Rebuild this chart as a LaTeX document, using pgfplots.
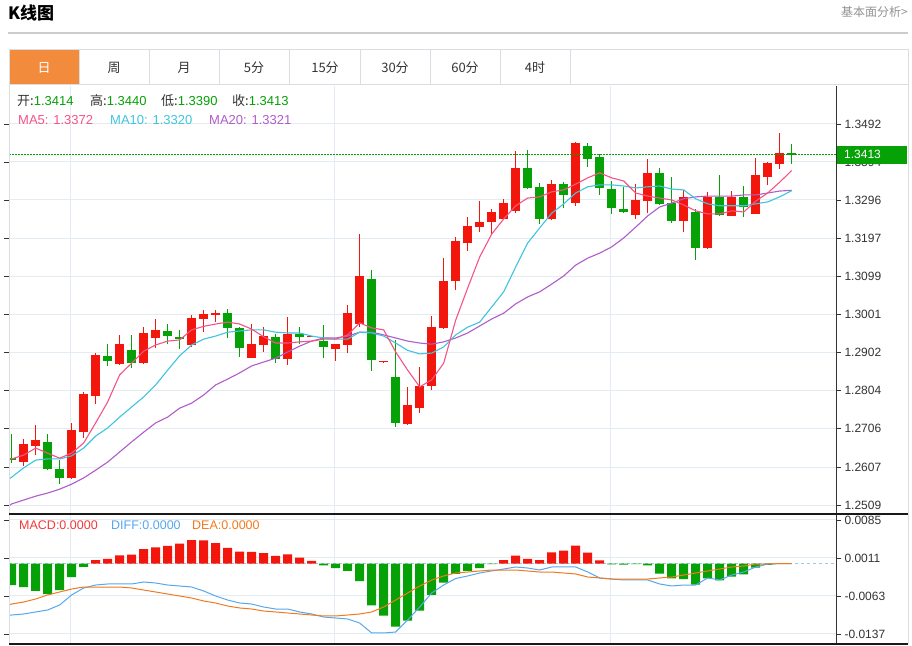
\documentclass[border=0pt]{standalone}
\usepackage{fontspec}
\setmainfont{Liberation Sans}
\newfontfamily\cjk{Noto Sans CJK SC}
\usepackage{pgfplots}
\pgfplotsset{compat=1.18}
\usepackage{pgfplotstable}

\definecolor{kred}{HTML}{F2160C}
\definecolor{kgreen}{HTML}{06A106}
\definecolor{cma5}{HTML}{F55486}
\definecolor{cma10}{HTML}{40C4DF}
\definecolor{cma20}{HTML}{B05CC9}
\definecolor{cdiff}{HTML}{55A8EE}
\definecolor{cdea}{HTML}{F27A1E}
\definecolor{cmacd}{HTML}{F23A3A}
\definecolor{czero}{HTML}{9CCBE8}
\definecolor{cgrid}{HTML}{E4ECF3}
\definecolor{cframe}{HTML}{DADDE1}
\definecolor{caxis}{HTML}{333333}
\definecolor{ctext}{HTML}{333333}
\definecolor{corange}{HTML}{F28C3C}
\definecolor{cbox}{HTML}{06A106}

% daily candles: open high low close
\pgfplotstableread{
x o h l c
0 1.2630 1.2692 1.2617 1.2625
1 1.2620 1.2679 1.2610 1.2666
2 1.2661 1.2716 1.2638 1.2677
3 1.2672 1.2692 1.2599 1.2602
4 1.2602 1.2625 1.2563 1.2579
5 1.2579 1.2721 1.2576 1.2703
6 1.2697 1.2801 1.2682 1.2795
7 1.2790 1.2901 1.2770 1.2896
8 1.2894 1.2924 1.2868 1.2881
9 1.2873 1.2948 1.2870 1.2924
10 1.2909 1.2948 1.2863 1.2875
11 1.2875 1.2968 1.2873 1.2953
12 1.2940 1.2989 1.2914 1.2961
13 1.2958 1.2976 1.2924 1.2945
14 1.2943 1.2961 1.2912 1.2937
15 1.2922 1.2999 1.2917 1.2992
16 1.2989 1.3012 1.2955 1.3002
17 1.2999 1.3012 1.2981 1.3004
18 1.3004 1.3015 1.2940 1.2966
19 1.2966 1.2968 1.2891 1.2914
20 1.2888 1.2976 1.2888 1.2924
21 1.2922 1.2968 1.2904 1.2945
22 1.2943 1.2950 1.2875 1.2886
23 1.2886 1.2994 1.2870 1.2950
24 1.2950 1.2968 1.2924 1.2943
25 1.2943 1.2946 1.2943 1.2946
26 1.2932 1.2974 1.2888 1.2917
27 1.2912 1.2924 1.2881 1.2924
28 1.2922 1.3025 1.2901 1.3004
29 1.2976 1.3208 1.2968 1.3100
30 1.3092 1.3115 1.2855 1.2883
31 1.2877 1.2879 1.2877 1.2879
32 1.2839 1.2935 1.2710 1.2721
33 1.2718 1.2814 1.2716 1.2767
34 1.2759 1.2865 1.2746 1.2816
35 1.2816 1.2997 1.2806 1.2968
36 1.2966 1.3146 1.2963 1.3087
37 1.3087 1.3201 1.3064 1.3190
38 1.3185 1.3252 1.3164 1.3229
39 1.3226 1.3293 1.3213 1.3239
40 1.3239 1.3273 1.3206 1.3265
41 1.3247 1.3299 1.3244 1.3288
42 1.3268 1.3422 1.3262 1.3379
43 1.3379 1.3425 1.3324 1.3327
44 1.3330 1.3340 1.3234 1.3247
45 1.3247 1.3348 1.3244 1.3337
46 1.3337 1.3342 1.3275 1.3309
47 1.3288 1.3446 1.3281 1.3443
48 1.3435 1.3443 1.3381 1.3402
49 1.3407 1.3415 1.3309 1.3327
50 1.3324 1.3345 1.3260 1.3275
51 1.3273 1.3330 1.3262 1.3265
52 1.3257 1.3337 1.3247 1.3296
53 1.3293 1.3402 1.3262 1.3366
54 1.3366 1.3379 1.3283 1.3286
55 1.3288 1.3355 1.3237 1.3242
56 1.3242 1.3322 1.3213 1.3304
57 1.3265 1.3273 1.3141 1.3172
58 1.3172 1.3317 1.3170 1.3304
59 1.3304 1.3361 1.3255 1.3257
60 1.3255 1.3319 1.3255 1.3304
61 1.3304 1.3332 1.3252 1.3278
62 1.3260 1.3404 1.3260 1.3361
63 1.3355 1.3394 1.3335 1.3391
64 1.3389 1.3469 1.3376 1.3417
65 1.3414 1.3440 1.3390 1.3413
}\candles

\pgfplotsset{
  ticklab/.style={font=\fontsize{12}{14}\selectfont, text=ctext},
  wick/.style={mark=none, arrows=-, line width=1.2pt,
    quiver={u=0, v=\thisrow{h}-\thisrow{l}}},
  body/.style={mark=none, arrows=-, line width=9pt,
    quiver={u=0, v={max(abs(\thisrow{c}-\thisrow{o}),0.0003)}}},
  upday/.style={restrict expr to domain={\thisrow{c}-\thisrow{o}}{0:1}},
  downday/.style={restrict expr to domain={\thisrow{c}-\thisrow{o}}{-1:0}},
}

\begin{document}
\begin{tikzpicture}[x=1pt,y=1pt]
\path[use as bounding box, fill=white] (0,0) rectangle (912,645);

% header
\node[anchor=base west, inner sep=0, font=\cjk\bfseries\fontsize{17}{19}\selectfont] at (8,625) {K线图};
\node[anchor=base east, inner sep=0, text=gray!85, font=\cjk\fontsize{12}{14}\selectfont] at (908,628) {基本面分析>};
\draw[line width=1.5pt, draw=black!20] (8,612) -- (908,612);

% period tabs
\fill[corange] (9,560) rectangle (79,595.5);
\draw[cframe, line width=1pt] (9,560) rectangle (908,595.5);
\foreach \sx in {79,149,219,289,360,430,500,570}
  \draw[cframe, line width=1pt] (\sx,560) -- (\sx,595.5);
\begin{scope}[every node/.style={font=\cjk\fontsize{13}{15}\selectfont, text=ctext}]
  \node[text=white] at (44,577) {日};
  \node at (114,577) {周};
  \node at (184,577) {月};
  \node at (254,577) {5分};
  \node at (325,577) {15分};
  \node at (395,577) {30分};
  \node at (465,577) {60分};
  \node at (535,577) {4时};
\end{scope}

% price panel
\begin{axis}[
  at={(9pt,131pt)}, anchor=south west, scale only axis,
  width=827pt, height=428pt,
  xmin=-0.22, xmax=68.69, ymin=1.2486, ymax=1.3590,
  axis line style={draw=none},
  xtick={4.94,26.94,49.94}, xticklabels={}, xtick style={draw=none},
  ytick={1.2509,1.2607,1.2706,1.2804,1.2902,1.3001,1.3099,1.3197,1.3296,1.3394,1.3492},
  yticklabels={1.2509,1.2607,1.2706,1.2804,1.2902,1.3001,1.3099,1.3197,1.3296,1.3394,1.3492},
  scaled y ticks=false,
  yticklabel pos=right, tick align=outside, major tick length=5pt,
  ytick style={draw=caxis, line width=0.8pt},
  xmajorgrids, ymajorgrids, major grid style={draw=cgrid, line width=1pt},
  yticklabel style={ticklab},
]
% wicks and bodies, red = up, green = down
\addplot[kred, wick, upday] table[x=x, y=l] {\candles};
\addplot[kred, body, upday] table[x=x, y expr={min(\thisrow{o},\thisrow{c})}] {\candles};
\addplot[kgreen, wick, downday] table[x=x, y=l] {\candles};
\addplot[kgreen, body, downday] table[x=x, y expr={min(\thisrow{o},\thisrow{c})}] {\candles};

% moving averages
\addplot[cma20, line width=1.1pt] coordinates {
(-0.22,1.2507) (0,1.2512) (1,1.2522) (2,1.2532) (3,1.2540) (4,1.2550) (5,1.2563) (6,1.2579)
(7,1.2599) (8,1.2620) (9,1.2646) (10,1.2672) (11,1.2697) (12,1.2721) (13,1.2736) (14,1.2759)
(15,1.2772) (16,1.2793) (17,1.2819) (18,1.2834) (19,1.2850) (20,1.2868) (21,1.2878) (22,1.2888)
(23,1.2904) (24,1.2919) (25,1.2932) (26,1.2940) (27,1.2940) (28,1.2945) (29,1.2955) (30,1.2955)
(31,1.2948) (32,1.2940) (33,1.2932) (34,1.2927) (35,1.2924) (36,1.2930) (37,1.2940) (38,1.2953)
(39,1.2971) (40,1.2989) (41,1.3004) (42,1.3028) (43,1.3046) (44,1.3059) (45,1.3079) (46,1.3100)
(47,1.3128) (48,1.3146) (49,1.3159) (50,1.3175) (51,1.3198) (52,1.3226) (53,1.3255) (54,1.3278)
(55,1.3288) (56,1.3299) (57,1.3304) (58,1.3306) (59,1.3306) (60,1.3306) (61,1.3309) (62,1.3309)
(63,1.3314) (64,1.3319) (65,1.3321)};
\addplot[cma10, line width=1.1pt] coordinates {
(-0.22,1.2576) (0,1.2581) (1,1.2605) (2,1.2625) (3,1.2628) (4,1.2628) (5,1.2636) (6,1.2656)
(7,1.2687) (8,1.2708) (9,1.2736) (10,1.2762) (11,1.2788) (12,1.2819) (13,1.2857) (14,1.2894)
(15,1.2922) (16,1.2937) (17,1.2945) (18,1.2955) (19,1.2958) (20,1.2961) (21,1.2961) (22,1.2955)
(23,1.2953) (24,1.2953) (25,1.2945) (26,1.2940) (27,1.2937) (28,1.2937) (29,1.2955) (30,1.2953)
(31,1.2945) (32,1.2927) (33,1.2908) (34,1.2899) (35,1.2901) (36,1.2917) (37,1.2948) (38,1.2968)
(39,1.2981) (40,1.3020) (41,1.3059) (42,1.3123) (43,1.3185) (44,1.3224) (45,1.3262) (46,1.3286)
(47,1.3314) (48,1.3330) (49,1.3335) (50,1.3335) (51,1.3332) (52,1.3327) (53,1.3330) (54,1.3332)
(55,1.3324) (56,1.3322) (57,1.3299) (58,1.3286) (59,1.3281) (60,1.3281) (61,1.3281) (62,1.3286)
(63,1.3291) (64,1.3304) (65,1.3320)};
\addplot[cma5, line width=1.1pt] coordinates {
(-0.22,1.2628) (0,1.2628) (1,1.2638) (2,1.2656) (3,1.2643) (4,1.2630) (5,1.2643) (6,1.2669)
(7,1.2721) (8,1.2775) (9,1.2845) (10,1.2875) (11,1.2906) (12,1.2922) (13,1.2932) (14,1.2935)
(15,1.2961) (16,1.2970) (17,1.2976) (18,1.2981) (19,1.2976) (20,1.2963) (21,1.2943) (22,1.2927)
(23,1.2927) (24,1.2930) (25,1.2932) (26,1.2937) (27,1.2937) (28,1.2948) (29,1.2979) (30,1.2966)
(31,1.2961) (32,1.2904) (33,1.2857) (34,1.2814) (35,1.2832) (36,1.2875) (37,1.2986) (38,1.3069)
(39,1.3149) (40,1.3208) (41,1.3247) (42,1.3281) (43,1.3301) (44,1.3304) (45,1.3317) (46,1.3322)
(47,1.3337) (48,1.3353) (49,1.3366) (50,1.3353) (51,1.3345) (52,1.3314) (53,1.3306) (54,1.3301)
(55,1.3296) (56,1.3283) (57,1.3268) (58,1.3260) (59,1.3260) (60,1.3268) (61,1.3265) (62,1.3293)
(63,1.3314) (64,1.3342) (65,1.3372)};

% last price line
\addplot[kgreen, line width=0.9pt, dash pattern=on 1.5pt off 1.5pt] coordinates {(-0.22,1.3413) (68.69,1.3413)};
\coordinate (lastp) at (axis cs:68.69,1.3413);
\end{axis}

% MACD panel
\begin{axis}[
  at={(9pt,1pt)}, anchor=south west, scale only axis,
  width=827pt, height=130pt,
  xmin=-0.22, xmax=68.69, ymin=-0.015654, ymax=0.009657,
  axis line style={draw=none},
  xtick={4.94,26.94,49.94}, xticklabels={}, xtick style={draw=none},
  ytick={-0.0137,-0.0063,0.0011,0.0085},
  yticklabels={-0.0137,-0.0063,0.0011,0.0085},
  scaled y ticks=false,
  yticklabel pos=right, tick align=outside, major tick length=5pt,
  ytick style={draw=caxis, line width=0.8pt},
  xmajorgrids, ymajorgrids, major grid style={draw=cgrid, line width=1pt},
  yticklabel style={ticklab},
]
\addplot[czero, line width=0.8pt, dash pattern=on 3pt off 3pt] coordinates {(-0.22,0) (68.69,0)};
\addplot[ybar, bar width=9pt, bar shift=0pt, fill=kred, draw=none] coordinates {
(7,0.00070) (8,0.00090) (9,0.00162) (10,0.00173) (11,0.00284) (12,0.00317) (13,0.00343)
(14,0.00387) (15,0.00459) (16,0.00454) (17,0.00401) (18,0.00304) (19,0.00232) (20,0.00226)
(21,0.00206) (22,0.00148) (23,0.00181) (24,0.00115) (25,0.00051)
(41,0.00070) (42,0.00154) (43,0.00090) (44,0.00070) (45,0.00220) (46,0.00251) (47,0.00349)
(48,0.00212) (49,0.00064)};
\addplot[ybar, bar width=9pt, bar shift=0pt, fill=kgreen, draw=none] coordinates {
(0,-0.00417) (1,-0.00456) (2,-0.00533) (3,-0.00592) (4,-0.00514) (5,-0.00261) (6,-0.00066)
(26,-0.00033) (27,-0.00086) (28,-0.00144) (29,-0.00339) (30,-0.00812) (31,-0.01014) (32,-0.01229)
(33,-0.01112) (34,-0.00917) (35,-0.00611) (36,-0.00372) (37,-0.00202) (38,-0.00144) (39,-0.00086)
(40,-0.00010) (50,-0.00014) (51,-0.00021) (52,-0.00010) (53,-0.00033) (54,-0.00197) (55,-0.00286)
(56,-0.00300) (57,-0.00411) (58,-0.00286) (59,-0.00325) (60,-0.00255) (61,-0.00208) (62,-0.00080)
(63,-0.00027) (64,-0.00005)};
\addplot[cdiff, line width=1pt] coordinates {
(-0.22,-0.01001) (0,-0.01001) (1,-0.00981) (2,-0.00942) (3,-0.00903) (4,-0.00806) (5,-0.00611)
(6,-0.00475) (7,-0.00417) (8,-0.00397) (9,-0.00397) (10,-0.00397) (11,-0.00358) (12,-0.00378)
(13,-0.00417) (14,-0.00436) (15,-0.00456) (16,-0.00533) (17,-0.00631) (18,-0.00709) (19,-0.00767)
(20,-0.00787) (21,-0.00845) (22,-0.00884) (23,-0.00884) (24,-0.00942) (25,-0.00981) (26,-0.01040)
(27,-0.01059) (28,-0.01079) (29,-0.01157) (30,-0.01351) (31,-0.01351) (32,-0.01332) (33,-0.01098)
(34,-0.00845) (35,-0.00572) (36,-0.00417) (37,-0.00290) (38,-0.00241) (39,-0.00183) (40,-0.00144)
(41,-0.00105) (42,-0.00066) (43,-0.00086) (44,-0.00125) (45,-0.00066) (46,-0.00066) (47,-0.00066)
(48,-0.00164) (49,-0.00280) (50,-0.00300) (51,-0.00319) (52,-0.00319) (53,-0.00319) (54,-0.00397)
(55,-0.00436) (56,-0.00417) (57,-0.00417) (58,-0.00280) (59,-0.00319) (60,-0.00222) (61,-0.00164)
(62,-0.00066) (63,-0.00008) (64,0) (65,0)};
\addplot[cdea, line width=1pt] coordinates {
(-0.22,-0.00806) (0,-0.00787) (1,-0.00748) (2,-0.00689) (3,-0.00611) (4,-0.00553) (5,-0.00495)
(6,-0.00456) (7,-0.00456) (8,-0.00456) (9,-0.00456) (10,-0.00475) (11,-0.00514) (12,-0.00553)
(13,-0.00592) (14,-0.00631) (15,-0.00670) (16,-0.00728) (17,-0.00767) (18,-0.00826) (19,-0.00864)
(20,-0.00884) (21,-0.00923) (22,-0.00942) (23,-0.00962) (24,-0.00981) (25,-0.01001) (26,-0.01020)
(27,-0.01020) (28,-0.01001) (29,-0.00981) (30,-0.00942) (31,-0.00845) (32,-0.00709) (33,-0.00572)
(34,-0.00436) (35,-0.00319) (36,-0.00241) (37,-0.00183) (38,-0.00164) (39,-0.00144) (40,-0.00125)
(41,-0.00125) (42,-0.00125) (43,-0.00144) (44,-0.00164) (45,-0.00164) (46,-0.00183) (47,-0.00202)
(48,-0.00261) (49,-0.00280) (50,-0.00300) (51,-0.00300) (52,-0.00300) (53,-0.00300) (54,-0.00280)
(55,-0.00261) (56,-0.00222) (57,-0.00183) (58,-0.00144) (59,-0.00105) (60,-0.00066) (61,-0.00047)
(62,-0.00008) (63,-0.00008) (64,0) (65,0)};
\end{axis}

% frame
\draw[cframe, line width=1pt] (9,1) -- (9,560);
\draw[cframe, line width=1pt] (908,1) -- (908,560);
\draw[caxis, line width=1pt] (836,1) -- (836,559);
\draw[black!90, line width=1.3pt] (9,131) -- (908,131);
\draw[black!90, line width=1.3pt] (9,1) -- (908,1);

% last price box
\node[anchor=west, fill=cbox, text=white, inner xsep=7pt, inner ysep=0pt,
      text width=56pt, align=left, minimum height=18pt,
      font=\fontsize{12}{14}\selectfont] at ([xshift=1pt]lastp) {1.3413};

% legends
\begin{scope}[every node/.style={anchor=base west, inner sep=0, font=\fontsize{13}{15}\selectfont, text=ctext}]
  \node at (17,539) {{\cjk 开:}\textcolor{kgreen}{1.3414}};
  \node at (90,539) {{\cjk 高:}\textcolor{kgreen}{1.3440}};
  \node at (161,539) {{\cjk 低:}\textcolor{kgreen}{1.3390}};
  \node at (232,539) {{\cjk 收:}\textcolor{kgreen}{1.3413}};
  \node[text=cma5] at (18,520) {MA5: 1.3372};
  \node[text=cma10] at (110,520) {MA10: 1.3320};
  \node[text=cma20] at (209,520) {MA20: 1.3321};
\end{scope}
\begin{scope}[every node/.style={anchor=base west, inner sep=0, font=\fontsize{12.5}{14}\selectfont}]
  \node[text=cmacd] at (19,115.5) {MACD:0.0000};
  \node[text=cdiff] at (111,115.5) {DIFF:0.0000};
  \node[text=cdea] at (192,115.5) {DEA:0.0000};
\end{scope}
\end{tikzpicture}
\end{document}
